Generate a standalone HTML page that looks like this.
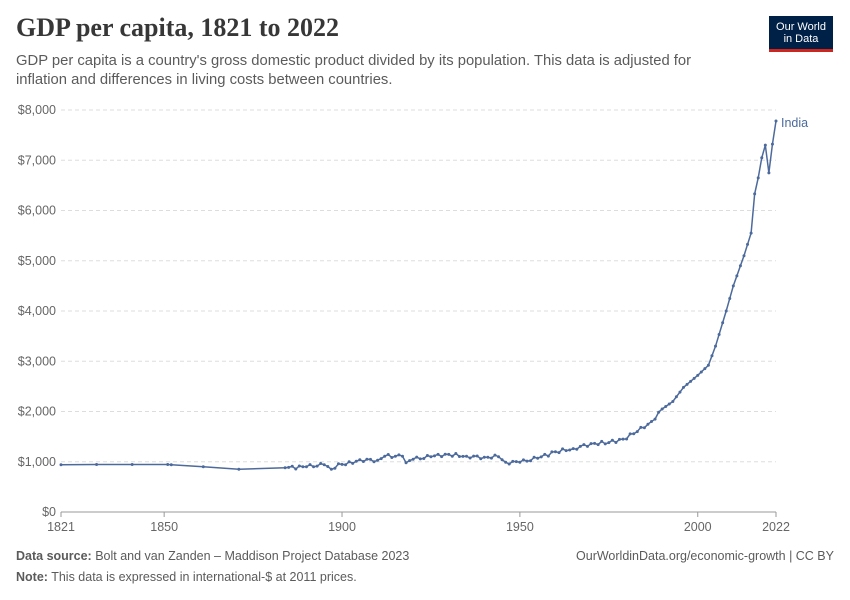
<!DOCTYPE html>
<html><head><meta charset="utf-8"><style>
body{margin:0;background:#fff;font-family:"Liberation Sans",sans-serif;}
#w{position:relative;width:850px;height:600px;overflow:hidden}
h1{position:absolute;left:16px;top:13px;margin:0;font-family:"Liberation Serif",serif;font-weight:bold;font-size:26px;color:#373737}
.sub{position:absolute;left:16px;top:52px;width:710px;font-size:14.8px;line-height:19px;color:#5b5b5b}
.logo{position:absolute;left:769px;top:16px;width:64px;height:36px;background:#002147;color:#fff;font-size:11px;line-height:12px;text-align:center;padding-top:5px;box-sizing:border-box;border-bottom:3px solid #ce261e}
.foot{position:absolute;font-size:12.5px;color:#5b5b5b}
</style></head><body><div id="w">
<h1>GDP per capita, 1821 to 2022</h1>
<div class="sub">GDP per capita is a country's gross domestic product divided by its population. This data is adjusted for inflation and differences in living costs between countries.</div>
<div class="logo">Our World<br>in Data</div>
<svg id="s" width="850" height="600" style="position:absolute;left:0;top:0"></svg>
<div class="foot" style="left:16px;top:549px"><b>Data source:</b> Bolt and van Zanden – Maddison Project Database 2023</div>
<div class="foot" style="right:16px;top:549px">OurWorldinData.org/economic-growth | CC BY</div>
<div class="foot" style="left:16px;top:570px"><b>Note:</b> This data is expressed in international-$ at 2011 prices.</div>
</div>
<script>
const s=document.getElementById('s');let h='';
const X=y=>61+(y-1821)*715/201, Y=v=>512-v*402/8000;
for(let i=0;i<=8;i++){const y=Y(i*1000);
h+=`<line x1="61" x2="776" y1="${y}" y2="${y}" stroke="${i?'#ddd':'#999'}" ${i?'stroke-dasharray="4,3"':''}/>`;
h+=`<text x="56" y="${y+4}" font-size="12.5" fill="#666" text-anchor="end">$${i?i+',000':'0'}</text>`;}
[[1821,'1821'],[1850,'1850'],[1900,'1900'],[1950,'1950'],[2000,'2000'],[2022,'2022']].forEach(([y,t])=>{
h+=`<line x1="${X(y)}" x2="${X(y)}" y1="512" y2="517" stroke="#999"/><text x="${X(y)}" y="531" font-size="12.5" fill="#666" text-anchor="middle">${t}</text>`;});
const k=[[1821,940],[1831,945],[1841,945],[1851,945],[1852,940],[1861,900],[1871,850],[1884,880],[1890,900],[1895,940],[1897,850],[1899,960],[1901,940],[1905,1040],[1910,1030],[1912,1110],[1917,1110],[1918,980],[1920,1050],[1925,1100],[1929,1150],[1935,1110],[1940,1090],[1944,1100],[1946,990],[1950,990],[1955,1070],[1960,1200],[1965,1260],[1970,1360],[1975,1380],[1979,1450],[1983,1600],[1987,1800],[1990,2050],[1993,2200],[1996,2480],[2000,2720],[2003,2920],[2005,3300],[2008,4000],[2010,4500],[2013,5100],[2015,5550],[2016,6330],[2017,6650],[2018,7050],[2019,7300],[2020,6750],[2021,7320],[2022,7780]];
const pts=[];
for(let i=0;i<k.length-1;i++){const[a,va]=k[i],[b,vb]=k[i+1];
 if(a<1884){pts.push([a,va]);continue;}
 for(let y=a;y<b;y++){let v=va+(vb-va)*(y-a)/(b-a);if(y>a&&y<1990)v+=Math.sin(y*2.3)*35;pts.push([y,v]);}}
pts.push([2022,7780]);
h+=`<polyline fill="none" stroke="#4c6a9c" stroke-width="1.5" points="${pts.map(p=>X(p[0])+','+Y(p[1])).join(' ')}"/>`;
pts.forEach(p=>h+=`<circle cx="${X(p[0])}" cy="${Y(p[1])}" r="1.5" fill="#4c6a9c"/>`);
h+=`<text x="781" y="127" font-size="12.5" fill="#4c6a9c">India</text>`;
s.innerHTML=h;
</script></body></html>
